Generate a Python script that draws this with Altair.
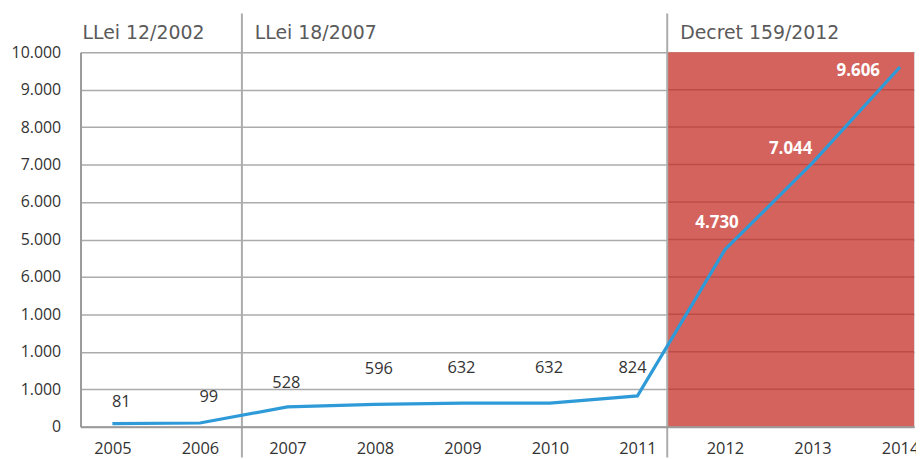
import altair as alt
import pandas as pd

# ---- data ----
years = [2005, 2006, 2007, 2008, 2009, 2010, 2011, 2012, 2013, 2014]
values = [81, 99, 528, 596, 632, 632, 824, 4730, 7044, 9606]
y_ticks = [0, 1000, 2000, 3000, 4000, 5000, 6000, 7000, 8000, 9000, 10000]
y_tick_labels = ["0", "1.000", "1.000", "1.000", "6.000", "5.000", "6.000",
                 "7.000", "8.000", "9.000", "10.000"]
period_labels = ["LLei 12/2002", "LLei 18/2007", "Decret 159/2012"]
x_min, x_max = 2004.636, 2014.16
period_bounds = [2006.48, 2011.34]      # law changes between years
period_starts = [x_min] + period_bounds

df = pd.DataFrame({"year": years, "value": values})
df["label"] = [f"{v:,}".replace(",", ".") for v in values]

W, H = 839, 377
FONT = "Open Sans"
xs = alt.Scale(domain=[x_min, x_max], nice=False, zero=False)
ys = alt.Scale(domain=[0, 10000], nice=False)
AX_X = alt.Axis(values=years, format="d", ticks=False, grid=False, title=None,
                domainColor="#9a9a9a", domainWidth=2,
                labelPadding=14, labelFont=FONT, labelFontSize=16.5,
                labelColor="#333333", labelFlush=False, labelOverlap=False,
                zindex=1)
AX_Y = alt.Axis(values=y_ticks, ticks=False, labelOverlap=False, title=None,
                labelExpr=str(y_tick_labels) + "[round(datum.value / 1000)]",
                gridColor="#ababab", gridWidth=1.5,
                domainColor="#9a9a9a", domainWidth=2,
                labelPadding=20, labelFont=FONT, labelFontSize=16,
                labelColor="#333333", zindex=0)


def X(field):
    return alt.X(field, scale=xs, axis=AX_X)


def Y(field):
    return alt.Y(field, scale=ys, axis=AX_Y)


base = alt.Chart(df)

red = alt.Chart(pd.DataFrame({"x": [period_bounds[1]], "x2": [x_max],
                              "y": [0], "y2": [10000]})).mark_rect(
    color="#d4635d").encode(x=X("x:Q"), x2="x2:Q", y=Y("y:Q"), y2="y2:Q")

red_grid = alt.Chart(pd.DataFrame({"y": y_ticks[1:-1],
                                   "x": [period_bounds[1]] * 9,
                                   "x2": [x_max] * 9})).mark_rule(
    color="#bc4c47", strokeWidth=1.5).encode(x=X("x:Q"), x2="x2:Q", y=Y("y:Q"))

seps = alt.Chart(pd.DataFrame({"x": period_bounds})).mark_rule(
    color="#ababab", strokeWidth=2).encode(
    x=X("x:Q"), y=alt.value(-39), y2=alt.value(H + 31))

header_df = pd.DataFrame({"x": period_starts, "t": period_labels,
                          "first": [1, 0, 0]})
header1 = alt.Chart(header_df).transform_filter("datum.first == 1").mark_text(
    align="left", baseline="middle", font="DejaVu Sans", fontSize=19,
    color="#5a5a5a", dx=2).encode(x=X("x:Q"), y=alt.value(-19), text="t:N")
header2 = alt.Chart(header_df).transform_filter("datum.first == 0").mark_text(
    align="left", baseline="middle", font="DejaVu Sans", fontSize=19,
    color="#5a5a5a", dx=13).encode(x=X("x:Q"), y=alt.value(-19), text="t:N")

line = base.mark_line(color="#2e9bd8", strokeWidth=3.2).encode(
    x=X("year:Q"), y=Y("value:Q"))

# label offsets (style only)
offsets = {2005: (9, -22, "#333333", "normal"), 2006: (9, -26, "#333333", "normal"),
           2007: (-1, -24, "#333333", "normal"), 2008: (4, -36, "#333333", "normal"),
           2009: (-1, -35, "#333333", "normal"), 2010: (-1, -35, "#333333", "normal"),
           2011: (-5, -28, "#333333", "normal"), 2012: (-8, -27, "white", "bold"),
           2013: (-22, -14, "white", "bold"), 2014: (-42, 4, "white", "bold")}
labels = []
for yr, (dx, dy, col, fw) in offsets.items():
    labels.append(base.transform_filter(f"datum.year == {yr}").mark_text(
        dx=dx, dy=dy, color=col, fontWeight=fw, font=FONT,
        fontSize=16.5 if fw == "normal" else 17, baseline="middle").encode(
        x=X("year:Q"), y=Y("value:Q"), text="label:N"))

chart = alt.layer(red, red_grid, seps, header1, header2, line, *labels).properties(
    width=W, height=H,
    autosize=alt.AutoSizeParams(type="none"),
    padding={"left": 73, "top": 43, "right": 2, "bottom": 31},
).configure_view(strokeWidth=0).configure(background="white")

chart.save("out.html", embed_options={"renderer": "svg", "actions": False})
